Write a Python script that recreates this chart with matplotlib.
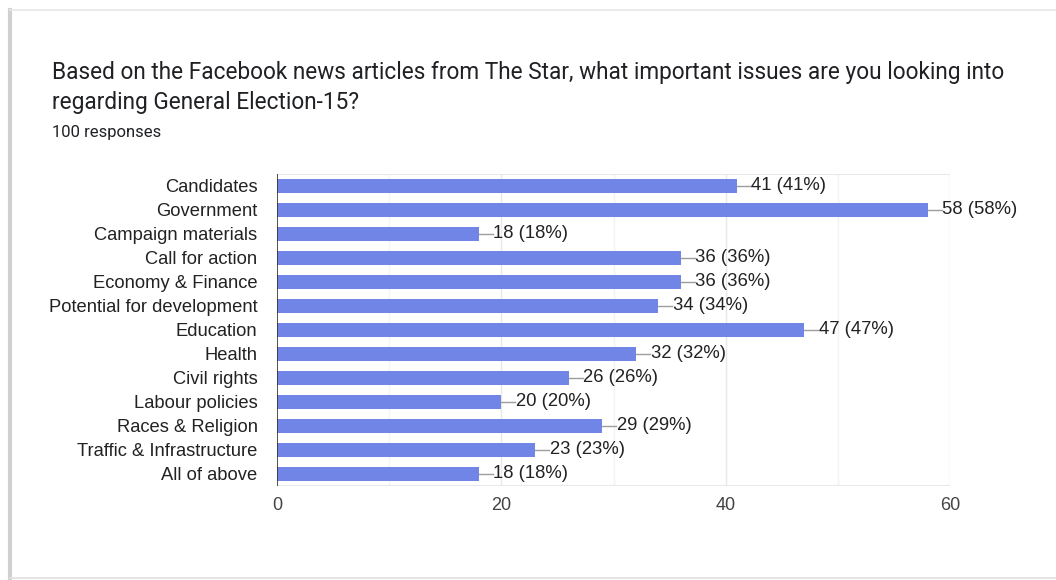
import matplotlib.pyplot as plt
from matplotlib.lines import Line2D

categories = ["Candidates", "Government", "Campaign materials", "Call for action",
              "Economy & Finance", "Potential for development", "Education", "Health",
              "Civil rights", "Labour policies", "Races & Religion",
              "Traffic & Infrastructure", "All of above"]
counts = [41, 58, 18, 36, 36, 34, 47, 32, 26, 20, 29, 23, 18]
total = 100
major_ticks = [0, 20, 40, 60]
minor_ticks = [10, 30, 50]

W, H = 1056, 580
fig = plt.figure(figsize=(W / 100, H / 100), dpi=100)
fig.patch.set_facecolor("white")

# card outline with a faint shadow on the left
fig.add_artist(Line2D([10 / W, 10 / W], [2 / H, 1 - 10 / H], color="#d0d0d0", lw=3,
                      transform=fig.transFigure))
fig.add_artist(Line2D([10 / W, 1], [1 - 10 / H, 1 - 10 / H], color="#e6e6e6", lw=1.2,
                      transform=fig.transFigure))
fig.add_artist(Line2D([10 / W, 1], [2 / H, 2 / H], color="#e0e0e0", lw=1.2,
                      transform=fig.transFigure))

fig.text(52 / W, 1 - 72 / H,
         "Based on the Facebook news articles from The Star, what important issues are you looking into",
         fontsize=16.3, family="Roboto", color="#202124", va="center")
fig.text(52 / W, 1 - 102 / H, "regarding General Election-15?",
         fontsize=16.3, family="Roboto", color="#202124", va="center")
fig.text(52 / W, 1 - 133 / H, "100 responses", fontsize=12, family="Roboto",
         color="#202124", va="center")

ax = fig.add_axes([277 / W, 1 - 486 / H, (950 - 277) / W, (486 - 174) / H])
y = list(range(len(categories)))
ax.barh(y, counts, height=0.55, color="#7185e6", zorder=3)
ax.set_xlim(0, 60)
ax.set_ylim(len(categories) - 0.5, -0.5)

for t in minor_ticks:
    ax.axvline(t, color="#f3f3f3", lw=1, zorder=1)
for t in major_ticks[1:]:
    ax.axvline(t, color="#e8e8e8", lw=1, zorder=1)
ax.axhline(len(categories) - 0.5, color="#e8e8e8", lw=1.5, zorder=1)
ax.axhline(-0.5, color="#e8e8e8", lw=1.5, zorder=1)
ax.axvline(0, color="#333333", lw=1.2, zorder=4)

for yi, c in zip(y, counts):
    ax.plot([c, c + 1.25], [yi, yi], color="#9e9e9e", lw=1, zorder=3)
    ax.text(c + 1.3, yi, f"{c} ({round(c / total * 100)}%)", va="center", ha="left",
            fontsize=13.3, family="Liberation Sans", color="#222222")

ax.set_yticks(y)
ax.set_yticklabels(categories, fontsize=13.2, family="Liberation Sans", color="#222222")
ax.set_xticks(major_ticks)
ax.set_xticklabels([str(t) for t in major_ticks], fontsize=13,
                   family="Liberation Sans", color="#444444")
ax.tick_params(length=0, axis="y", pad=14)
ax.tick_params(length=0, axis="x", pad=8)
for s in ax.spines.values():
    s.set_visible(False)

plt.savefig("out.png", dpi=100)
